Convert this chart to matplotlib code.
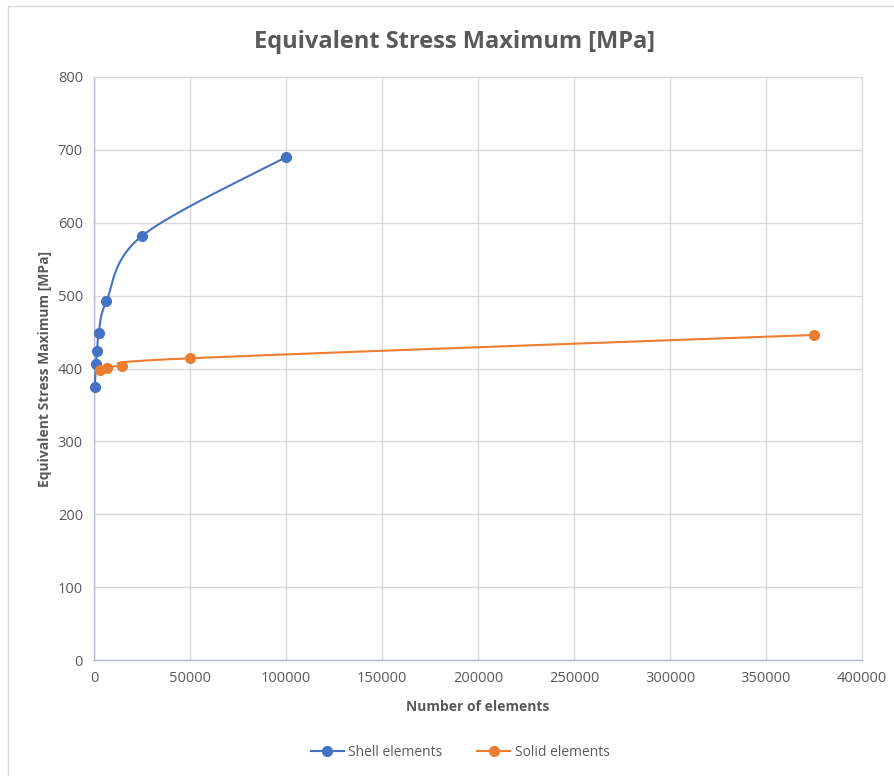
import numpy as np
import matplotlib
matplotlib.use('Agg')
import matplotlib.pyplot as plt
from matplotlib.patches import Rectangle

# data
shell_n = [400, 1000, 1600, 2500, 6400, 25000, 100000]
shell_s = [375, 406, 424, 449, 492, 582, 690]
solid_n = [3000, 6900, 14500, 50000, 375000]
solid_s = [398, 401, 404, 414, 446]

x_ticks = [0, 50000, 100000, 150000, 200000, 250000, 300000, 350000, 400000]
y_ticks = [0, 100, 200, 300, 400, 500, 600, 700, 800]

BLUE = '#4472C4'
ORANGE = '#ED7D31'
TXT = '#595959'
GRID = '#D9D9D9'

plt.rcParams['font.family'] = ['Open Sans', 'DejaVu Sans']


def smooth(xs, ys, n=60):
    # excel-like smoothed line: catmull-rom segments as cubic bezier
    p = np.column_stack([xs, ys]).astype(float)
    out = [p[0]]
    t = np.linspace(0, 1, n)[1:]
    for i in range(len(p) - 1):
        p0 = p[i - 1] if i > 0 else p[i]
        p3 = p[i + 2] if i + 2 < len(p) else p[i + 1]
        c1 = p[i] + (p[i + 1] - p0) / 6
        c2 = p[i + 1] - (p3 - p[i]) / 6
        for tt in t:
            b = ((1 - tt) ** 3 * p[i] + 3 * (1 - tt) ** 2 * tt * c1
                 + 3 * (1 - tt) * tt ** 2 * c2 + tt ** 3 * p[i + 1])
            out.append(b)
    out = np.array(out)
    return out[:, 0], out[:, 1]


W, H = 895, 776
fig = plt.figure(figsize=(W / 100, H / 100), dpi=100)

# chart border
fig.patches.append(Rectangle((8 / W, -0.1), 1.2, 1.1 - 6 / H,
                             transform=fig.transFigure, fill=False,
                             edgecolor='#D9D9D9', linewidth=1))

ax = fig.add_axes([94 / W, 1 - 660 / H, (862 - 94) / W, (660 - 77) / H])

bx, by = smooth(shell_n, shell_s)
ax.plot(bx, by, color=BLUE, lw=1.5, zorder=3, clip_on=False)
ox, oy = smooth(solid_n, solid_s)
ax.plot(ox, oy, color=ORANGE, lw=1.5, zorder=3, clip_on=False)

ax.plot(shell_n, shell_s, 'o', color=BLUE, ms=7, zorder=4, clip_on=False)
ax.plot(solid_n, solid_s, 'o', color=ORANGE, ms=7, zorder=4, clip_on=False)

# legend handles
ax.plot([], [], '-o', color=BLUE, ms=7, lw=1.5, label='Shell elements')
ax.plot([], [], '-o', color=ORANGE, ms=7, lw=1.5, label='Solid elements')

ax.set_xlim(0, 400000)
ax.set_ylim(0, 800)
ax.set_xticks(x_ticks)
ax.set_yticks(y_ticks)
ax.set_xticklabels([str(v) for v in x_ticks])
ax.grid(True, color=GRID, lw=1)
ax.set_axisbelow(True)
for s in ['top', 'right']:
    ax.spines[s].set_color(GRID)
for s in ['left', 'bottom']:
    ax.spines[s].set_color('#B4BCCB')
    ax.spines[s].set_linewidth(1)
ax.tick_params(length=0, labelsize=10.5, labelcolor=TXT, pad=8)

ax.set_xlabel('Number of elements', fontsize=10, fontweight='bold',
              color=TXT, labelpad=10)
ax.set_ylabel('Equivalent Stress Maximum [MPa]', fontsize=10,
              fontweight='bold', color=TXT, labelpad=4)

fig.text(455 / W, 1 - 42 / H, 'Equivalent Stress Maximum [MPa]',
         ha='center', va='center', fontsize=17, fontweight='bold', color=TXT)

leg = fig.legend(handles=ax.get_lines()[-2:], loc='center',
                 bbox_to_anchor=(460 / W, 1 - 752 / H), ncol=2,
                 frameon=False, fontsize=10, handlelength=2.4,
                 columnspacing=2.5, handletextpad=0.3)
for t in leg.get_texts():
    t.set_color(TXT)

fig.savefig('out.png', dpi=100)
